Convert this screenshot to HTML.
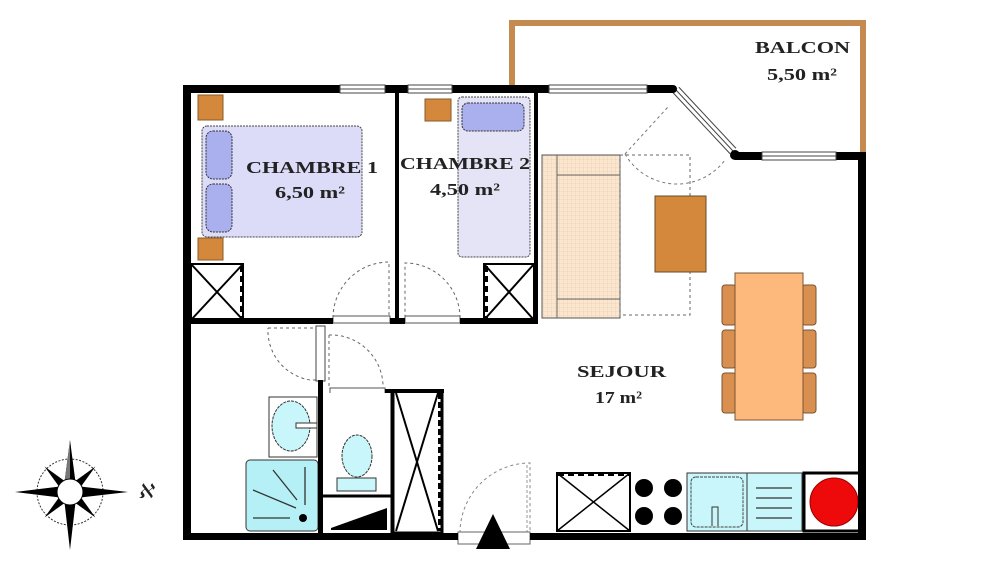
<!DOCTYPE html>
<html><head><meta charset="utf-8"><style>
html,body{margin:0;padding:0;background:#fff;}
svg{display:block;}
text{font-family:"Liberation Serif",serif;font-weight:bold;fill:#222;font-size:17px;}
</style></head><body>
<svg width="1000" height="562" viewBox="0 0 1000 562" xmlns="http://www.w3.org/2000/svg">
<defs>
<pattern id="grid" width="4" height="4" patternUnits="userSpaceOnUse">
<rect width="4" height="4" fill="#fbe6cf"/><path d="M4 0V4M0 4H4" stroke="#e8c9a8" stroke-width="0.6"/>
</pattern>
</defs>
<!-- Balcon -->
<path d="M512 85 V23 H863 V155" fill="none" stroke="#c48a4f" stroke-width="6"/>
<text x="755" y="53" textLength="95" lengthAdjust="spacingAndGlyphs">BALCON</text>
<text x="767" y="80" textLength="70" lengthAdjust="spacingAndGlyphs">5,50 m²</text>

<!-- furniture chambre 1 -->
<rect x="198" y="95" width="25" height="25" fill="#d4883b" stroke="#8a5a2a"/>
<rect x="198" y="238" width="25" height="22" fill="#d4883b" stroke="#8a5a2a"/>
<rect x="202" y="126" width="160" height="111" rx="5" fill="#dcdcf8" stroke="#444" stroke-dasharray="2,1"/>
<rect x="206" y="131" width="26" height="48" rx="7" fill="#aab0ee" stroke="#333" stroke-dasharray="2,1"/>
<rect x="206" y="184" width="26" height="48" rx="7" fill="#aab0ee" stroke="#333" stroke-dasharray="2,1"/>
<text x="246" y="173" textLength="132" lengthAdjust="spacingAndGlyphs">CHAMBRE 1</text>
<text x="275" y="198" textLength="70" lengthAdjust="spacingAndGlyphs">6,50 m²</text>
<!-- wardrobe ch1 -->
<rect x="191" y="264" width="52" height="56" fill="#fff" stroke="#000" stroke-width="2"/>
<path d="M191 264 L243 320 M243 264 L191 320" stroke="#000" stroke-width="2"/>
<path d="M242 266 V320" stroke="#000" stroke-width="4" stroke-dasharray="6,4"/>

<!-- chambre 2 -->
<rect x="425" y="99" width="26" height="22" fill="#d4883b" stroke="#8a5a2a"/>
<rect x="458" y="97" width="72" height="160" rx="4" fill="#e4e4f6" stroke="#444" stroke-dasharray="2,1"/>
<rect x="462" y="103" width="62" height="28" rx="6" fill="#aab0ee" stroke="#333" stroke-dasharray="2,1"/>
<text x="400" y="169" textLength="130" lengthAdjust="spacingAndGlyphs">CHAMBRE 2</text>
<text x="430" y="195" textLength="70" lengthAdjust="spacingAndGlyphs">4,50 m²</text>
<rect x="484" y="264" width="50" height="56" fill="#fff" stroke="#000" stroke-width="2"/>
<path d="M484 264 L534 320 M534 264 L484 320" stroke="#000" stroke-width="2"/>
<path d="M486 266 V320" stroke="#000" stroke-width="4" stroke-dasharray="6,4"/>

<!-- doors chambres -->
<path d="M333 318 A56 56 0 0 1 389 262 V318" fill="none" stroke="#666" stroke-dasharray="3,3"/>
<path d="M460 318 A55 55 0 0 0 405 263 V318" fill="none" stroke="#666" stroke-dasharray="3,3"/>
<rect x="333" y="316" width="57" height="7" fill="#fff" stroke="#555"/>
<rect x="405" y="316" width="55" height="7" fill="#fff" stroke="#555"/>

<!-- Sejour furniture -->
<rect x="542" y="155" width="78" height="163" fill="url(#grid)" stroke="#555"/>
<path d="M557 155 V318 M557 175 H620 M557 299 H620" stroke="#666" fill="none"/>
<rect x="620" y="155" width="70" height="160" fill="none" stroke="#666" stroke-dasharray="3,3"/>
<path d="M625 154 L668 107 M625 154 A60 60 0 0 0 725 160" fill="none" stroke="#777" stroke-dasharray="3,3"/>
<rect x="655" y="196" width="51" height="76" fill="#d4883b" stroke="#6a4a2a"/>
<!-- dining -->
<g fill="#d98f50" stroke="#7a5530">
<rect x="722" y="285" width="14" height="40" rx="3"/><rect x="722" y="330" width="14" height="38" rx="3"/><rect x="722" y="373" width="14" height="40" rx="3"/>
<rect x="802" y="285" width="14" height="40" rx="3"/><rect x="802" y="330" width="14" height="38" rx="3"/><rect x="802" y="373" width="14" height="40" rx="3"/>
</g>
<rect x="735" y="273" width="68" height="147" fill="#fdb97c" stroke="#7a5530"/>
<text x="577" y="377" textLength="89" lengthAdjust="spacingAndGlyphs">SEJOUR</text>
<text x="595" y="403" textLength="47" lengthAdjust="spacingAndGlyphs">17 m²</text>

<!-- kitchen -->
<rect x="557" y="473" width="73" height="58" fill="#fff" stroke="#000" stroke-width="2"/>
<path d="M557 473 L630 531 M630 473 L557 531" stroke="#000" stroke-width="1.5"/>
<path d="M558 474 H630" stroke="#000" stroke-width="4" stroke-dasharray="6,4"/>
<rect x="631" y="473" width="56" height="58" fill="#fff"/>
<g fill="#000"><circle cx="644" cy="488" r="9"/><circle cx="673" cy="488" r="9"/><circle cx="644" cy="516" r="9"/><circle cx="673" cy="516" r="9"/></g>
<rect x="687" y="473" width="60" height="58" fill="#c8f6fa" stroke="#333"/>
<rect x="691" y="477" width="52" height="50" rx="5" fill="none" stroke="#444" stroke-dasharray="3,1"/>
<path d="M712 526 V507 H718 V526" fill="none" stroke="#333"/>
<rect x="747" y="473" width="55" height="58" fill="#c8f6fa" stroke="#333"/>
<path d="M756 488 H792 M756 498 H792 M756 508 H792 M756 518 H792" stroke="#333" stroke-width="1.2"/>
<rect x="804" y="473" width="56" height="58" fill="#fff" stroke="#000" stroke-width="3"/>
<circle cx="834" cy="502" r="24" fill="#ee0a0a" stroke="#900"/>

<!-- bathroom -->
<path d="M268 328 H317 V380 H310 A50 50 0 0 1 268 328" fill="none" stroke="#666" stroke-dasharray="3,3"/>
<rect x="316" y="326" width="9" height="55" fill="#fff" stroke="#444"/>
<path d="M329 335 V389 M329 335 A52 52 0 0 1 383 389" fill="none" stroke="#666" stroke-dasharray="3,3"/>
<rect x="330" y="388" width="55" height="6" fill="#fff" stroke="#555"/>
<rect x="269" y="397" width="48" height="60" fill="#fff" stroke="#333"/>
<ellipse cx="291" cy="426" rx="19" ry="25" fill="#c8f6fa" stroke="#333" stroke-dasharray="3,1"/>
<rect x="296" y="423" width="21" height="5" fill="#fff" stroke="#333"/>
<rect x="246" y="460" width="72" height="71" rx="4" fill="#b4f0f5" stroke="#333"/>
<path d="M253 490 L296 508 M273 470 L297 500 M305 467 V505 M253 518 H290" stroke="#333" stroke-width="1.3"/>
<circle cx="303" cy="518" r="4" fill="#000"/>
<!-- WC -->
<rect x="322" y="393" width="70" height="140" fill="#fff"/>
<ellipse cx="357" cy="456" rx="15" ry="21" fill="#c8f6fa" stroke="#333" stroke-dasharray="3,1"/>
<rect x="337" y="478" width="39" height="13" fill="#c8f6fa" stroke="#333"/>
<path d="M320 496 H392" stroke="#000" stroke-width="3"/>
<polygon points="331,528 387,508 387,530 331,530" fill="#000"/>
<path d="M320 394 V533 M392 390 V533" stroke="#000" stroke-width="3"/>
<!-- closet -->
<rect x="393" y="391" width="49" height="142" fill="#fff" stroke="#000" stroke-width="3"/>
<path d="M396 393 L438 531 M438 393 L396 531" stroke="#000" stroke-width="2"/>
<path d="M440 393 V531" stroke="#000" stroke-width="4" stroke-dasharray="6,3"/>
<path d="M385 391 H444" stroke="#000" stroke-width="4"/>

<!-- entry door -->
<path d="M460 533 A70 70 0 0 1 530 463 V533" fill="none" stroke="#888" stroke-dasharray="3,3"/>
<path d="M527 465 V533" stroke="#999" stroke-dasharray="3,2"/>
<rect x="458" y="532" width="72" height="12" fill="#fff" stroke="#666"/>
<polygon points="493,514 476,549 510,549" fill="#000"/>

<!-- walls -->
<g fill="#000">
<rect x="183" y="85" width="8" height="455"/>
<rect x="183" y="85" width="157" height="8"/>
<rect x="385" y="85" width="23" height="8"/>
<rect x="452" y="85" width="97" height="8"/>
<rect x="647" y="85" width="26" height="8"/>
<rect x="735" y="152" width="27" height="8"/>
<rect x="836" y="152" width="30" height="8"/>
<rect x="858" y="152" width="8" height="388"/>
<rect x="183" y="533" width="275" height="7"/>
<rect x="530" y="533" width="336" height="7"/>
<rect x="395" y="88" width="4" height="234"/>
<rect x="534" y="88" width="4" height="234"/>
<rect x="183" y="318" width="150" height="6"/>
<rect x="390" y="318" width="15" height="6"/>
<rect x="460" y="318" width="78" height="6"/>
<rect x="318" y="380" width="5" height="160"/>
</g>
<!-- windows -->
<g fill="#fff" stroke="#444">
<rect x="340" y="85" width="45" height="8"/><path d="M340 89 H385" />
<rect x="408" y="85" width="44" height="8"/><path d="M408 89 H452"/>
<rect x="549" y="85" width="98" height="8"/><path d="M549 89 H647"/>
<rect x="762" y="152" width="74" height="8"/><path d="M762 156 H836"/>
</g>
<path d="M676 90 L733 151" stroke="#444" stroke-width="9"/>
<path d="M676 90 L733 151" stroke="#fff" stroke-width="7"/>
<path d="M676 90 L733 151" stroke="#444" stroke-width="1"/>
<circle cx="673" cy="89" r="4" fill="#000"/><circle cx="735" cy="155" r="5" fill="#000"/>

<!-- compass -->
<g transform="translate(70,492)">
<circle r="33" fill="none" stroke="#333" stroke-dasharray="2,1.5"/>
<polygon points="0,-52 6,-6 -6,-6" fill="#000"/><polygon points="0,-52 -6,-6 0,0" fill="#777"/>
<polygon points="0,58 6,6 -6,6" fill="#000"/>
<polygon points="-55,0 -6,-6 -6,6" fill="#000"/>
<polygon points="58,0 6,-6 6,6" fill="#000"/>
<g transform="rotate(45)"><polygon points="0,-36 5,-5 -5,-5" fill="#000"/><polygon points="0,36 5,5 -5,5" fill="#000"/><polygon points="-36,0 -5,-5 -5,5" fill="#000"/><polygon points="36,0 5,-5 5,5" fill="#000"/></g>
<circle r="13" fill="#fff" stroke="#000"/>
<text x="68" y="6" style="font-size:20px;font-style:italic;font-weight:normal">ℵ</text>
</g>
</svg>
</body></html>
